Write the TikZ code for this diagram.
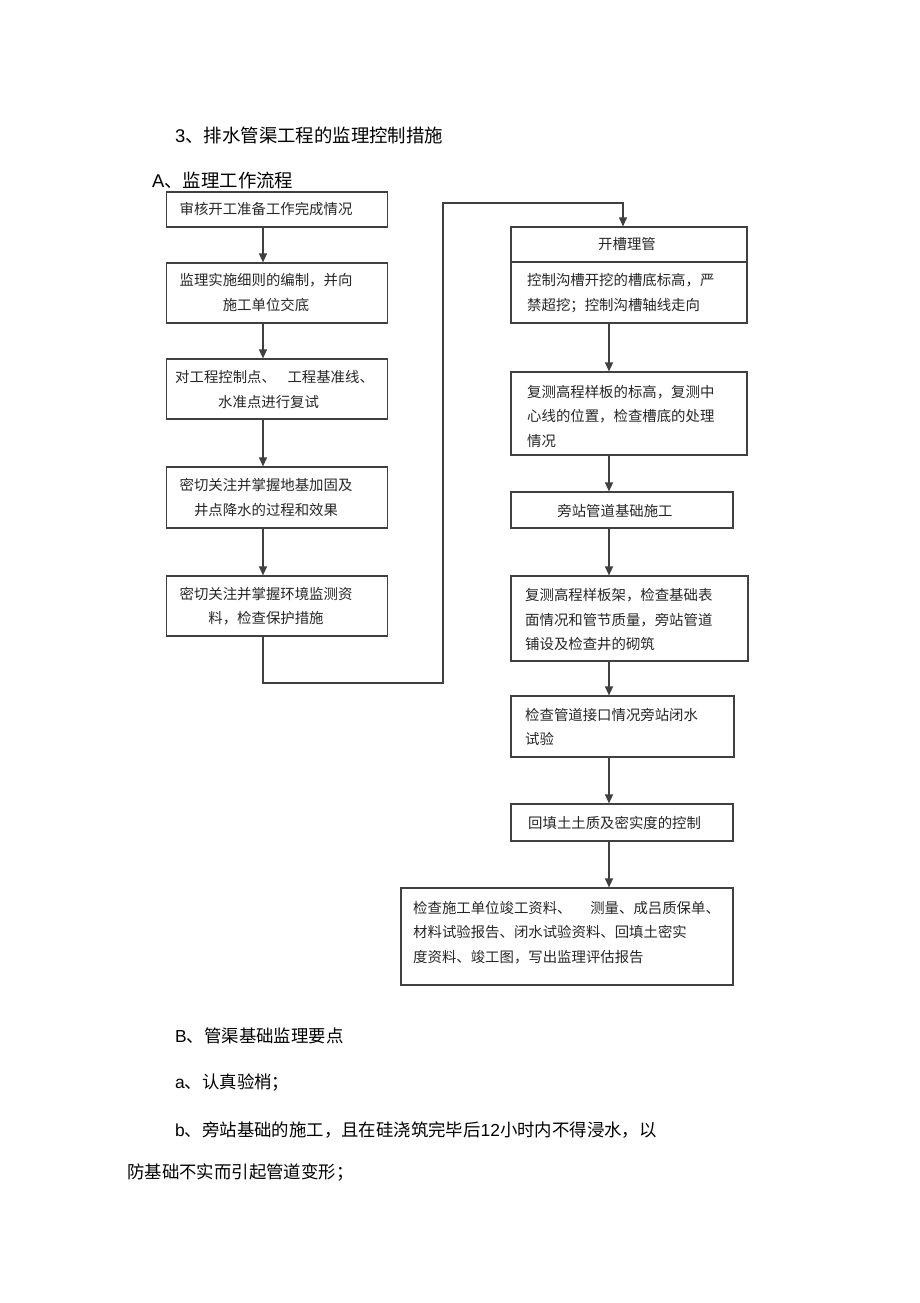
\documentclass[tikz,border=0pt]{standalone}
\usepackage{fontspec}
\setmainfont{Liberation Sans}
\newfontfamily\cjk{Noto Sans CJK SC}
\usetikzlibrary{arrows.meta,positioning}

\begin{document}
\begin{tikzpicture}[x=1pt,y=-1pt,
  box/.style={draw=black!75, line width=1.2pt, inner sep=0pt},
  txt/.style={inner sep=0pt, text=black!85, font=\cjk\fontsize{14.4pt}{24.5pt}\selectfont},
  head/.style={inner sep=0pt, anchor=west, font=\fontsize{18.4pt}{22pt}\selectfont},
  body/.style={inner sep=0pt, anchor=west, font=\fontsize{17.4pt}{22pt}\selectfont},
  flow/.style={draw=black!75, line width=1.2pt, -{Triangle[length=9pt,width=8pt]}}]
\useasboundingbox (0,0) rectangle (920,1303);
\coordinate (lc) at (263,0);
\coordinate (rc) at (609,0);

% headings
\node[head] (title) at (175,135) {3{\cjk 、排水管渠工程的监理控制措施}};
\node[head] (parta) at (152,180) {A{\cjk 、监理工作流程}};

% left column
\node[box, minimum width=221pt, minimum height=35pt] (b1) at (277,209.5) {};
\node[box, minimum width=221pt, minimum height=60pt] (b2) at (277,293) {};
\node[box, minimum width=221pt, minimum height=60pt] (b3) at (277,389) {};
\node[box, minimum width=221pt, minimum height=61pt] (b4) at (277,497.5) {};
\node[box, minimum width=221pt, minimum height=60pt] (b5) at (277,606) {};
\node[txt] (t1) at (266,209.5) {审核开工准备工作完成情况};
\node[txt, align=center] (t2) at (266,292.5) {监理实施细则的编制，并向\\施工单位交底};
\node[txt, anchor=west, align=left] (t3) at (175,389.5) {对工程控制点、\hspace{0.8em}工程基准线、\\\hspace*{43pt}水准点进行复试};
\node[txt, align=center] (t4) at (266,497.5) {密切关注并掌握地基加固及\\井点降水的过程和效果};
\node[txt, align=center] (t5) at (266,606) {密切关注并掌握环境监测资\\料，检查保护措施};

% right column
\node[box, minimum width=236pt, minimum height=35pt] (b6h) at (629,244.5) {};
\node[box, minimum width=236pt, minimum height=61pt] (b6b) at (629,292.5) {};
\node[box, minimum width=236pt, minimum height=83pt] (b7) at (629,413.5) {};
\node[box, minimum width=222pt, minimum height=36pt] (b8) at (622,510) {};
\node[box, minimum width=237pt, minimum height=85pt] (b9) at (629.5,618.5) {};
\node[box, minimum width=223pt, minimum height=61pt] (b10) at (622.5,726.5) {};
\node[box, minimum width=222pt, minimum height=37pt] (b11) at (622,822.5) {};
\node[box, minimum width=332pt, minimum height=97pt] (b12) at (567,936.5) {};
\node[txt] (t6h) at (627,244) {开槽理管};
\node[txt, anchor=west, align=left] (t6b) at (527,293) {控制沟槽开挖的槽底标高，严\\禁超挖；控制沟槽轴线走向};
\node[txt, anchor=west, align=left] (t7) at (527,416) {复测高程样板的标高，复测中\\心线的位置，检查槽底的处理\\情况};
\node[txt] (t8) at (615,511) {旁站管道基础施工};
\node[txt, anchor=west, align=left] (t9) at (525,620) {复测高程样板架，检查基础表\\面情况和管节质量，旁站管道\\铺设及检查井的砌筑};
\node[txt, anchor=west, align=left] (t10) at (525,727) {检查管道接口情况旁站闭水\\试验};
\node[txt, anchor=west] (t11) at (528,823) {回填土土质及密实度的控制};
\node[txt, anchor=west, align=left] (t12) at (413,932.5) {检查施工单位竣工资料、\hspace{1.3em}测量、成吕质保单、\\材料试验报告、闭水试验资料、回填土密实\\度资料、竣工图，写出监理评估报告};

% connectors
\draw[flow] (b1.south -| lc) -- (b2.north -| lc);
\draw[flow] (b2.south -| lc) -- (b3.north -| lc);
\draw[flow] (b3.south -| lc) -- (b4.north -| lc);
\draw[flow] (b4.south -| lc) -- (b5.north -| lc);
\coordinate (c1) at (263,683);
\coordinate (c2) at (443,683);
\coordinate (c3) at (443,203);
\coordinate (c4) at (623,203);
\draw[flow] (b5.south -| lc) -- (c1) -- (c2) -- (c3) -- (c4) -- (b6h.north -| c4);
\draw[flow] (b6b.south -| rc) -- (b7.north -| rc);
\draw[flow] (b7.south -| rc) -- (b8.north -| rc);
\draw[flow] (b8.south -| rc) -- (b9.north -| rc);
\draw[flow] (b9.south -| rc) -- (b10.north -| rc);
\draw[flow] (b10.south -| rc) -- (b11.north -| rc);
\draw[flow] (b11.south -| rc) -- (b12.north -| rc);

% part B
\node[body] (partb) at (175,1036) {B{\cjk 、管渠基础监理要点}};
\node[body] (pa) at (175,1083) {a{\cjk 、认真验梢；}};
\node[body] (pb) at (175,1130) {b{\cjk 、旁站基础的施工，且在硅浇筑完毕后}12{\cjk 小时内不得浸水，以}};
\node[body] (pc) at (127,1172) {\cjk 防基础不实而引起管道变形；};
\end{tikzpicture}
\end{document}
